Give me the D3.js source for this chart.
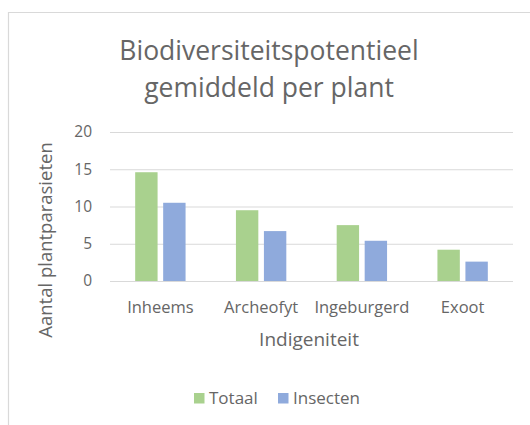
<!DOCTYPE html>
<html><head><meta charset="utf-8">
<script src="https://cdn.jsdelivr.net/npm/d3@7"></script>
<style>body{margin:0;background:#fff}svg{display:block}text{font-family:"Open Sans",Lato,sans-serif;fill:#666}</style>
</head><body><svg id="c" width="530" height="425"></svg>
<script>
const categories = ["Inheems","Archeofyt","Ingeburgerd","Exoot"];
const seriesNames = ["Totaal","Insecten"];
const totaal = [14.6, 9.5, 7.5, 4.2];
const insecten = [10.5, 6.7, 5.4, 2.6];
const yTicks = [0,5,10,15,20];
const seriesColors = ["#a9d18e","#8faadc"];
const titleLines = ["Biodiversiteitspotentieel","gemiddeld per plant"];
const xTitle = "Indigeniteit";
const yTitle = "Aantal plantparasieten";

const values = [totaal, insecten];
const svg = d3.select("#c");
svg.append("path").attr("d","M8.5,425 V12.5 H530").attr("fill","none").attr("stroke","#d9d9d9").attr("stroke-width",1.2);

const L=110, R=513, T=132, B=281;
const x0 = d3.scaleBand().domain(categories).range([L,R]);
const x1 = d3.scaleBand().domain(seriesNames).range([0,x0.bandwidth()]).paddingInner(0.2).paddingOuter(0.9);
const y = d3.scaleLinear().domain([0,20]).range([B,T]);

const yAxis = svg.append("g").attr("transform",`translate(${L},0)`)
  .call(d3.axisLeft(y).tickValues(yTicks).tickSize(-(R-L)).tickPadding(18));
yAxis.select(".domain").remove();
yAxis.selectAll("line").attr("stroke","#d9d9d9");
yAxis.selectAll("text").style("font-size","15.5px").attr("fill","#666");

const g = svg.append("g");
categories.forEach((c,i)=>{
  seriesNames.forEach((s,j)=>{
    g.append("rect").attr("x",x0(c)+x1(s)).attr("width",x1.bandwidth())
      .attr("y",y(values[j][i])).attr("height",y(0)-y(values[j][i])).attr("fill",seriesColors[j]);
  });
});

const xAxis = svg.append("g").attr("transform",`translate(0,${B})`)
  .call(d3.axisBottom(x0).tickSize(0).tickPadding(20));
xAxis.select(".domain").remove();
xAxis.selectAll("text").style("font-size","16.5px").attr("fill","#666");

svg.append("text").attr("x",269).attr("y",60).attr("text-anchor","middle").style("font-size","26.5px").text(titleLines[0]);
svg.append("text").attr("x",269).attr("y",97).attr("text-anchor","middle").style("font-size","26.5px").text(titleLines[1]);

svg.append("text").attr("x",309).attr("y",346).attr("text-anchor","middle").style("font-size","19px").text(xTitle);
svg.append("text").attr("transform","translate(52,240) rotate(-90)").attr("text-anchor","middle").style("font-size","18.5px").text(yTitle);

const legX = [194, 278];
seriesNames.forEach((s,j)=>{
  svg.append("rect").attr("x",legX[j]).attr("y",393).attr("width",10.5).attr("height",10.5).attr("fill",seriesColors[j]);
  svg.append("text").attr("x",legX[j]+15).attr("y",404).style("font-size",  "17px").text(s);
});
</script></body></html>
